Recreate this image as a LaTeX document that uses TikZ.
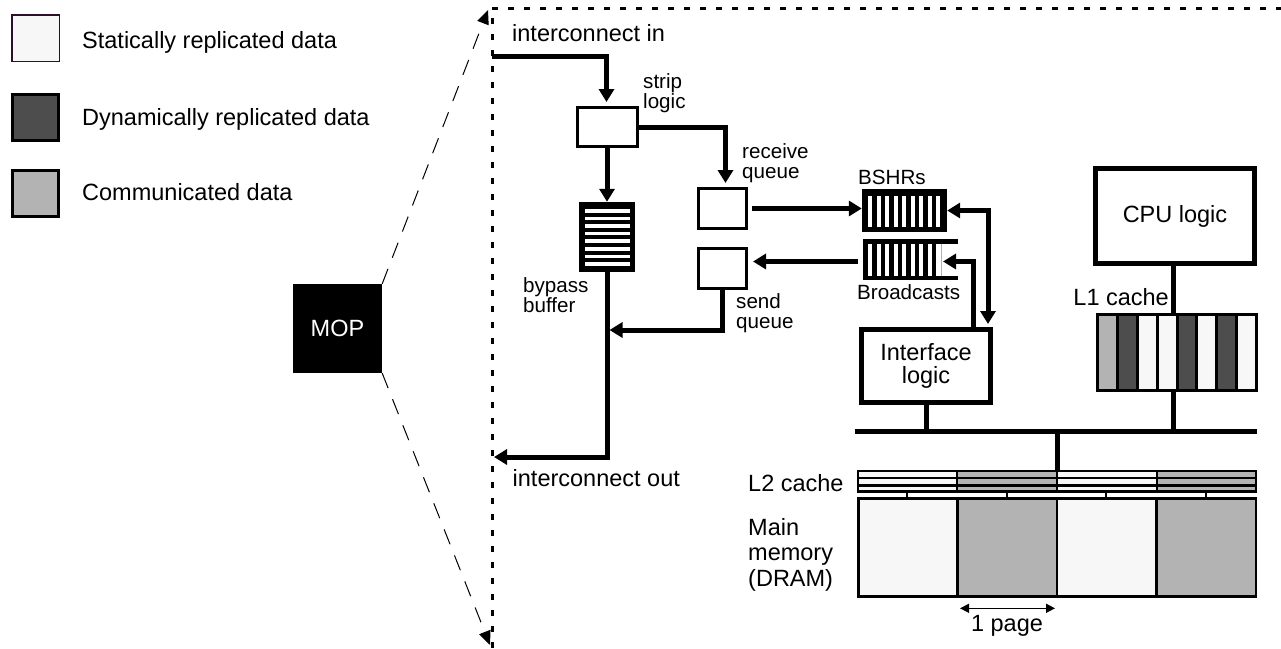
\documentclass[tikz,border=0pt]{standalone}
\usepackage{fontspec}
\setmainfont{Liberation Sans}
\usetikzlibrary{arrows.meta}
\definecolor{statc}{HTML}{F7F7F7}
\definecolor{dync}{HTML}{4D4D4D}
\definecolor{commc}{HTML}{B3B3B3}
\definecolor{legedge}{HTML}{2B0F2B}
\newcommand\fbig{\fontsize{23.5}{25.5}\selectfont}
\newcommand\fsmall{\fontsize{20.6}{20}\selectfont}
\begin{document}
\begin{tikzpicture}[x=1pt,y=-1pt,
  lbl/.style={inner sep=0pt, font=\fbig, anchor=base west, align=left},
  slbl/.style={inner sep=0pt, font=\fsmall, anchor=base west, align=left},
  tipbig/.tip={Triangle[length=13pt,width=15pt]},
  conn/.style={line width=5pt, -tipbig},
  wire/.style={line width=5pt},
  qbox/.style={draw, line width=3pt, fill=white, inner sep=0pt},
  bigbox/.style={draw, line width=5pt, fill=white, inner sep=0pt, align=center},
  legbox/.style={draw, line width=3pt, inner sep=0pt, minimum width=46pt, minimum height=46pt},
  zoomline/.style={line width=1pt, dash pattern=on 16pt off 12pt, -{Triangle[length=14pt,width=12pt]}},
  frameline/.style={line width=3pt, dash pattern=on 6pt off 10pt},
  cell/.style={draw, line width=3pt},
  mcell/.style={draw, line width=2.5pt},
  blank/.style={inner sep=0pt, outer sep=0pt},
]
\useasboundingbox (0,0) rectangle (1281,648);

% legend
\node[legbox, draw=legedge, line width=1.5pt, fill=statc, minimum width=47.5pt, minimum height=46.5pt] (lg1) at (35.5,38) {};
\node[legbox, fill=dync] (lg2) at (35.5,117.5) {};
\node[legbox, fill=commc] (lg3) at (35.5,193) {};
\node[lbl] (lt1) at (82,48) {Statically replicated data};
\node[lbl] (lt2) at (82,125) {Dynamically replicated data};
\node[lbl] (lt3) at (82,200.5) {Communicated data};

% MOP and zoom lines
\node[fill=black, minimum width=89pt, minimum height=89pt, inner sep=0pt, text=white, font=\fbig] (mop) at (337.5,328.5) {MOP};
\coordinate (ztop) at (488,10);
\coordinate (zbot) at (490,645);
\draw[zoomline] (mop.north east) -- (ztop);
\draw[zoomline] (mop.south east) -- (zbot);

% dotted frame
\coordinate (fbl) at (492,648);
\coordinate (ftl) at (492,8);
\coordinate (ftr) at (1281,8);
\draw[frameline] (fbl) -- (ftl) -- (ftr);

\node[lbl] (tin) at (512,41.5) {interconnect in};
\node[lbl] (tout) at (512.5,486.5) {interconnect out};

% strip logic
\node[qbox, minimum width=60pt, minimum height=39pt] (strip) at (607,127) {};
\node[slbl] (tstrip) at (643,108.5) {strip\\logic};

% bypass buffer
\node[fill=black, minimum width=56pt, minimum height=70pt, inner sep=0pt] (byp) at (607,237) {};
\foreach \k in {0,...,7} \fill[white] (584.5,209+7.6*\k) rectangle (629.5,212.6+7.6*\k);
\node[slbl] (tbyp) at (523,312.5) {bypass\\buffer};

% queues
\node[qbox, minimum width=48pt, minimum height=40pt] (recv) at (722.5,208.5) {};
\node[slbl] (trecv) at (742,178.5) {receive\\queue};
\node[qbox, minimum width=48pt, minimum height=40pt] (send) at (722.5,268.5) {};
\node[slbl] (tsend) at (736,328.5) {send\\queue};

% BSHRs
\node[fill=black, minimum width=85pt, minimum height=43pt, inner sep=0pt] (bshr) at (904.5,210.5) {};
\foreach \k in {0,...,8} \fill[white] (868+8.5*\k,196) rectangle (872.3+8.5*\k,227);
\node[slbl] (tbshr) at (858,184) {BSHRs};

% Broadcasts
\node[blank, minimum width=95pt, minimum height=41pt] (bcast) at (910.5,259.5) {};
\fill (863,239) rectangle (941,280);
\foreach \k in {0,...,8} \fill[white] (868+8.5*\k,243.5) rectangle (872.3+8.5*\k,275.5);
\fill[white] (940.3,243.5) rectangle (941,275.5);
\fill (941,239) rectangle (958,243.5);
\fill (941,275.5) rectangle (958,280);
\draw[gray!60, line width=0.8pt] (941.6,243.5) -- (941.6,275.5);
\node[slbl] (tbcast) at (857,299) {Broadcasts};
\coordinate (bcin) at (943,261.5);

% interface, CPU
\node[bigbox, minimum width=129pt, minimum height=73pt, font={\fontsize{23.5}{23.3}\selectfont}] (iface) at (926,366) {Interface\\logic};
\node[bigbox, minimum width=159pt, minimum height=95pt, font=\fbig] (cpu) at (1175,216) {CPU logic};

% L1 cache
\node[blank, minimum width=162pt, minimum height=79pt] (l1) at (1177,352.5) {};
\foreach \c [count=\i from 0] in {commc,dync,statc,statc,dync,statc,dync,statc}
  \draw[cell, fill=\c] (1097.5+19.875*\i,314.5) rectangle (1117.375+19.875*\i,390.5);
\node[lbl, anchor=base east] (tl1) at (1169,305) {L1 cache};

% connectors
\coordinate (cin) at (492,56);
\draw[conn, shorten >=4pt] (cin) -| ([xshift=-0.5pt]strip.north);
\draw[conn] (strip.south) -- (byp.north);
\draw[conn, shorten >=4pt] (strip.east) -| ([xshift=3pt]recv.north);
\draw[conn, shorten <=4pt] (recv.east) -- (recv.east -| bshr.west);
\draw[conn, shorten <=5pt, shorten >=5pt] ([yshift=-2pt]bcast.west) -- ([yshift=-2pt]bcast.west -| send.east);
\coordinate (jn) at (609.5,330);
\draw[conn] (send.south) |- (jn);
\coordinate (cout) at (494,457);
\draw[conn] (byp.south) |- (cout);
\draw[line width=5pt, tipbig-tipbig, shorten >=3pt] (bshr.east) -| ([xshift=-5pt]iface.north east);
\draw[conn] ([xshift=-20pt]iface.north east) |- (bcin);

% bus and wires
\coordinate (busl) at (855,431);
\coordinate (busr) at (1257,431);
\coordinate (l1x) at (1173,0);
\draw[wire] (busl) -- (busr);
\draw[wire] (iface.south) -- (iface.south |- busl);
\draw[wire] (cpu.south -| l1x) -- (l1.north -| l1x);
\draw[wire] (l1.south -| l1x) -- (busl -| l1x);

% L2 cache
\node[blank, minimum width=400pt, minimum height=22pt] (l2) at (1057,481) {};
\draw[wire] (busl -| l2.north) -- (l2.north);
\fill[statc] (857,470) rectangle (957,492);
\fill[commc] (957,470) rectangle (1057,492);
\fill[statc] (1057,470) rectangle (1157,492);
\fill[commc] (1157,470) rectangle (1257,492);
\foreach \yy in {477.8,485.3} \draw[line width=2.5pt] (857,\yy) -- (1257,\yy);
\foreach \xx in {957,1057,1157} \draw[line width=2.5pt] (\xx,470) -- (\xx,492);
\draw[line width=2.5pt] (858.2,471.2) rectangle (1255.8,491.3);
\foreach \xx in {907,1007,1106,1206} \draw[line width=2pt] (\xx,491) -- (\xx,498);
\node[lbl] (tl2) at (748,491.7) {L2 cache};

% main memory
\node[blank, minimum width=400pt, minimum height=100pt] (mem) at (1057,547) {};
\foreach \c [count=\i from 0] in {statc,commc,statc,commc}
  \draw[mcell, fill=\c] (858.25+99.375*\i,498.25) rectangle (957.625+99.375*\i,596.25);
\node[lbl, font={\fontsize{23.5}{25.5}\selectfont}] (tmem) at (748,586) {Main\\memory\\(DRAM)};

% 1 page
\coordinate (pgl) at (960,608.3);
\coordinate (pgr) at (1055,608.3);
\draw[line width=1.5pt, {Triangle[length=9pt,width=9pt]}-{Triangle[length=9pt,width=9pt]}] (pgl) -- (pgr);
\node[lbl, anchor=base] (tpage) at (1007,631.7) {1 page};
\end{tikzpicture}
\end{document}
